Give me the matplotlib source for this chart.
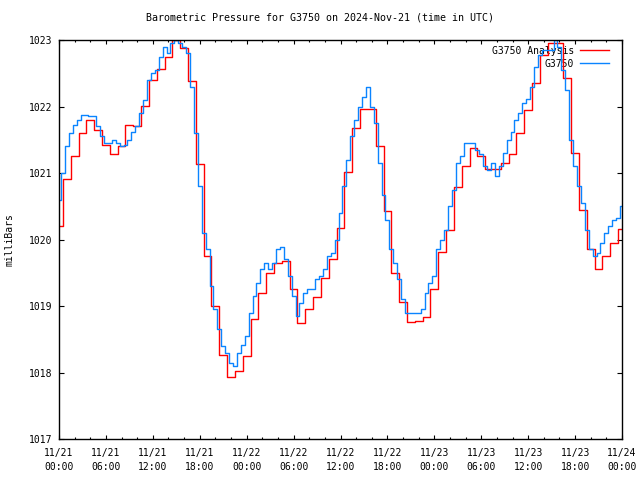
import numpy as np
import pandas as pd
import matplotlib
matplotlib.use('Agg')
import matplotlib.pyplot as plt

# analysis: hourly values, 2024-11-21 00:00 .. 11-24 00:00
red_vals = [
    1020.2, 1020.91, 1021.25, 1021.6, 1021.8, 1021.65,
    1021.42, 1021.29, 1021.41, 1021.72, 1021.7, 1022.01,
    1022.4, 1022.56, 1022.75, 1023.0, 1022.88, 1022.38,
    1021.13, 1019.75, 1019.0, 1018.27, 1017.93, 1018.03,
    1018.25, 1018.8, 1019.2, 1019.5, 1019.65, 1019.68,
    1019.25, 1018.75, 1018.95, 1019.14, 1019.42, 1019.7,
    1020.17, 1021.01, 1021.68, 1021.96, 1021.96, 1021.4,
    1020.43, 1019.5, 1019.06, 1018.76, 1018.78, 1018.84,
    1019.25, 1019.81, 1020.15, 1020.79, 1021.11, 1021.38,
    1021.26, 1021.06, 1021.06, 1021.15, 1021.29, 1021.6,
    1021.95, 1022.35, 1022.78, 1022.95, 1022.95, 1022.43,
    1021.3, 1020.45, 1019.86, 1019.56, 1019.75, 1019.95,
    1020.16,
]
red_hours = np.arange(len(red_vals))

# station obs: half-hourly
blue_vals = [
    1020.6, 1021.0, 1021.4, 1021.6, 1021.72, 1021.8, 1021.87, 1021.87, 1021.85, 1021.85, 1021.7, 1021.55,
    1021.45, 1021.45, 1021.5, 1021.45, 1021.4, 1021.42, 1021.5, 1021.62, 1021.7, 1021.9, 1022.1, 1022.4,
    1022.5, 1022.55, 1022.75, 1022.9, 1022.8, 1022.95, 1023.0, 1022.95, 1022.9, 1022.8, 1022.3, 1021.6,
    1020.8, 1020.1, 1019.85, 1019.3, 1018.95, 1018.65, 1018.4, 1018.3, 1018.15, 1018.1, 1018.3, 1018.42,
    1018.55, 1018.9, 1019.15, 1019.35, 1019.55, 1019.65, 1019.55, 1019.65, 1019.85, 1019.88, 1019.7, 1019.45,
    1019.15, 1018.85, 1019.05, 1019.2, 1019.25, 1019.25, 1019.4, 1019.45, 1019.55, 1019.75, 1019.8, 1020.0,
    1020.4, 1020.8, 1021.2, 1021.55, 1021.8, 1022.0, 1022.15, 1022.3, 1022.0, 1021.75, 1021.15, 1020.67,
    1020.3, 1019.85, 1019.65, 1019.4, 1019.1, 1018.9, 1018.9, 1018.9, 1018.9, 1018.95, 1019.2, 1019.35,
    1019.45, 1019.85, 1020.0, 1020.15, 1020.5, 1020.75, 1021.15, 1021.25, 1021.45, 1021.45, 1021.45, 1021.35,
    1021.28, 1021.1, 1021.05, 1021.15, 1020.95, 1021.1, 1021.3, 1021.5, 1021.62, 1021.8, 1021.9, 1022.05,
    1022.12, 1022.3, 1022.6, 1022.78, 1022.85, 1022.85, 1022.85, 1023.0, 1022.9, 1022.55, 1022.25, 1021.5,
    1021.1, 1020.8, 1020.55, 1020.15, 1019.85, 1019.75, 1019.8, 1019.95, 1020.1, 1020.2, 1020.3, 1020.33,
    1020.5,
]
blue_hours = np.arange(len(blue_vals)) * 0.5

start = pd.Timestamp('2024-11-21 00:00')
tick_hours = np.arange(0, 73, 6)
tick_labels = [(start + pd.Timedelta(hours=int(h))).strftime('%m/%d\n%H:%M') for h in tick_hours]

mono = 'DejaVu Sans Mono'

fig = plt.figure(figsize=(6.4, 4.8), dpi=100)
ax = fig.add_axes([59 / 640, 1 - 439 / 480, 563 / 640, 399 / 480])

ax.plot(red_hours, red_vals, drawstyle='steps-mid', color='#ff0000', lw=1.0, label='G3750 Analysis')
ax.plot(blue_hours, blue_vals, drawstyle='steps-mid', color='#0a84ff', lw=1.0, label='G3750')

ax.set_xlim(0, 72)
ax.set_ylim(1017, 1023)
ax.set_xticks(tick_hours)
ax.set_xticklabels(tick_labels, family=mono, fontsize=7, linespacing=1.45)
ax.set_xticks(np.arange(0, 73, 2), minor=True)
ax.set_yticks(np.arange(1017, 1024))
ax.set_yticklabels([str(v) for v in range(1017, 1024)], family=mono, fontsize=7)

ax.tick_params(axis='x', which='major', direction='in', length=2.6, width=0.8, top=True, pad=6.5)
ax.tick_params(axis='x', which='minor', direction='in', length=1.4, width=0.8, top=True)
ax.tick_params(axis='y', which='major', direction='in', length=3.6, width=0.8, right=True, pad=5)
for s in ax.spines.values():
    s.set_linewidth(1.0)

leg = ax.legend(loc='upper right', bbox_to_anchor=(1 - 7 / 563, 1.0), frameon=False, markerfirst=False,
                prop={'family': mono, 'size': 7}, handlelength=3.0, borderaxespad=0.2,
                labelspacing=0.3, handletextpad=0.6)
leg.set_zorder(1)

fig.text(0.5, 1 - 18 / 480, 'Barometric Pressure for G3750 on 2024-Nov-21 (time in UTC)',
         ha='center', va='center', family=mono, fontsize=7.2)
fig.text(10 / 640, 0.5, 'milliBars', rotation=90, ha='center', va='center', family=mono, fontsize=7)

fig.savefig('out.png', dpi=100)
